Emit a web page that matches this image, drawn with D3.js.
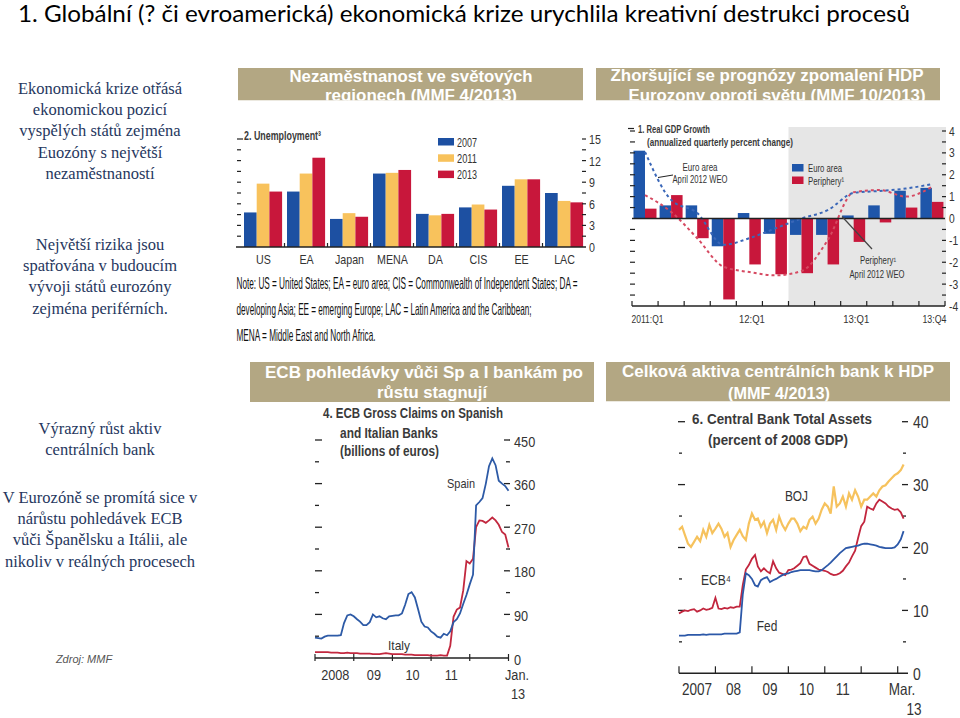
<!DOCTYPE html>
<html>
<head>
<meta charset="utf-8" />
<script src="https://d3js.org/d3.v7.min.js"></script>
<style>
  body { margin: 0; background: #fff; }
  svg text { font-family: "Liberation Sans", Arial, sans-serif; fill: #333; }
  .side { font-family: "Liberation Serif", "Times New Roman", serif; font-size: 16.5px; fill: #26375e; }
  .boxtitle { font-family: "Liberation Sans", Arial, sans-serif; font-weight: bold; font-size: 16px; fill: #fff; }
  .ctitle { font-weight: bold; fill: #3a3a3a; }
</style>
</head>
<body>
<script>
// ---------- data ----------
var pageTitle = "1. Globální (? či evroamerická) ekonomická krize urychlila kreativní destrukci procesů";
var sideNotes = [
  ["Ekonomická krize otřásá", "ekonomickou pozicí", "vyspělých států zejména", "Euozóny s největší", "nezaměstnaností"],
  ["Největší rizika jsou", "spatřována v budoucím", "vývoji států eurozóny", "zejména periférních."],
  ["Výrazný růst aktiv", "centrálních bank"],
  ["V Eurozóně se promítá sice v", "nárůstu pohledávek ECB", "vůči Španělsku a Itálii, ale", "nikoliv v reálných procesech"]
];
var sourceNote = "Zdroj: MMF";

// panel 1: unemployment
var regions = ["US", "EA", "Japan", "MENA", "DA", "CIS", "EE", "LAC"];
var unempYears = ["2007", "2011", "2013"];
var unemp2007 = [4.8, 7.7, 3.9, 10.2, 4.6, 5.5, 8.5, 7.5];
var unemp2011 = [8.8, 10.2, 4.7, 10.3, 4.4, 5.9, 9.4, 6.4];
var unemp2013 = [7.7, 12.4, 4.2, 10.7, 4.6, 5.2, 9.4, 6.2];
var unempTicks = [0, 3, 6, 9, 12, 15];
var unempNote = [
  "Note: US = United States; EA = euro area; CIS = Commonwealth of Independent States; DA =",
  "developing Asia; EE = emerging Europe; LAC = Latin America and the Caribbean;",
  "MENA = Middle East and North Africa."
];

// panel 2: real GDP growth
var quarters = ["2011:Q1", "2011:Q2", "2011:Q3", "2011:Q4", "2012:Q1", "2012:Q2", "2012:Q3", "2012:Q4", "2013:Q1", "2013:Q2", "2013:Q3", "2013:Q4"];
var quarterLabels = { "2011:Q1": "2011:Q1", "2012:Q1": "12:Q1", "2013:Q1": "13:Q1", "2013:Q4": "13:Q4" };
var gdpEuro = [3.1, 0.6, 0.6, -1.27, 0.25, -0.7, -0.75, -0.75, 0.14, 0.6, 1.27, 1.4];
var gdpPeriphery = [0.45, 1.07, -0.9, -3.7, -2.1, -2.55, -2.5, -2.1, -1.07, -0.18, 0.5, 0.76];
var weoEuro = [3.05, 0.85, 0.25, -1.2, -0.9, -0.45, 0.0, 0.38, 1.17, 1.26, 1.37, 1.57];
var weoPeriphery = [1.07, 0.3, -0.9, -2.2, -2.45, -2.6, -2.4, -1.0, 1.2, 1.3, 1.0, 1.45];
var gdpTicks = [-4, -3, -2, -1, 0, 1, 2, 3, 4];

// panel 3: ECB gross claims, monthly from Jan 2008 to Jan 2013
var spainClaims = [42, 41, 40, 44, 46, 46, 46, 46, 47, 72, 88, 90,
  86, 80, 75, 68, 68, 74, 90, 84, 86, 82, 80, 86,
  87, 88, 88, 92, 110, 132, 136, 125, 100, 75, 65, 63,
  55, 50, 44, 42, 50, 47, 55, 74, 80, 92, 112, 130,
  152, 172, 315, 322, 330, 360, 396, 412, 398, 366, 360, 355,
  345];
var italyClaims = [12, 12, 12, 12, 12, 11, 11, 11, 10, 10, 11, 10,
  10, 10, 9, 9, 9, 9, 8, 8, 8, 9, 10, 9,
  8, 8, 8, 8, 7, 7, 7, 6, 6, 6, 6, 6,
  5, 5, 5, 6, 5, 5, 25, 85, 100, 104, 140, 200,
  195, 205, 270, 284, 283, 279, 284, 290, 284, 275, 260, 255,
  228];
var claimsTicks = [0, 90, 180, 270, 360, 450];
var claimsYears = ["2008", "09", "10", "11"];

// panel 4: central bank assets, monthly from Jan 2007 to Mar 2013
var bojAssets = [22.8, 23.3, 22.0, 20.6, 20.1, 20.9, 21.7, 21.0, 22.8, 21.7, 23.6, 22.3,
  23.0, 23.8, 23.0, 21.7, 22.3, 20.1, 21.2, 22.0, 22.8, 21.8, 21.2, 23.8,
  25.4, 24.4, 24.6, 23.3, 24.1, 22.3, 23.8, 24.4, 22.8, 24.9, 23.6, 22.8,
  23.8, 24.6, 24.6, 23.8, 22.6, 23.3, 23.0, 24.4, 24.9, 23.8, 24.6, 26.0,
  27.0, 26.5, 25.4, 29.7, 26.5, 27.0, 28.1, 26.5, 28.6, 27.6, 29.1, 28.1,
  26.5, 27.6, 27.6, 28.1, 28.6, 28.1, 29.1, 29.7, 29.9, 30.5, 31.0, 31.5,
  31.8, 32.3, 33.2];
var ecbAssets = [9.5, 9.8, 10.0, 9.9, 10.1, 10.2, 9.8, 10.0, 10.3, 10.1, 10.2, 10.4,
  12.0, 10.3, 10.2, 10.4, 10.3, 10.5, 10.4, 10.6, 10.6, 14.0, 16.5, 17.2,
  18.2, 18.8, 17.0, 16.2, 16.7, 16.2, 15.9, 17.8, 16.7, 16.0, 15.8, 15.6,
  16.4, 16.5, 16.7, 17.1, 17.5, 18.5, 18.6, 17.4, 17.1, 16.8, 16.5, 16.4,
  16.3, 16.1, 15.8, 15.6, 15.7, 15.9, 16.3, 17.0, 17.6, 18.6, 19.5, 21.5,
  23.4, 24.1, 26.5, 26.2, 26.0, 27.0, 27.6, 27.3, 27.0, 26.5, 26.2, 26.0,
  26.1, 25.6, 24.6];
var fedAssets = [6.0, 6.0, 6.0, 6.1, 6.1, 6.1, 6.1, 6.1, 6.2, 6.1, 6.2, 6.2,
  6.2, 6.2, 6.2, 6.3, 6.3, 6.3, 6.3, 6.3, 6.5, 12.5, 15.9, 15.6,
  15.0, 14.0, 13.8, 14.8, 15.1, 15.3, 14.5, 14.8, 15.0, 15.3, 15.6, 15.8,
  15.9, 16.1, 16.2, 16.3, 16.4, 16.4, 16.4, 16.4, 16.3, 16.2, 16.2, 16.4,
  16.8, 17.2, 17.6, 18.1, 18.6, 19.1, 19.5, 19.9, 20.0, 20.1, 20.2, 20.3,
  20.5, 20.6, 20.6, 20.5, 20.4, 20.3, 20.1, 20.0, 19.9, 19.9, 19.9, 20.0,
  20.5, 21.3, 22.6];
var assetsTicks = [0, 10, 20, 30, 40];
var assetsYears = ["2007", "08", "09", "10", "11"];

// ---------- drawing ----------
var blue = "#1d50a2", yellow = "#f8c25c", red = "#c8173b", khaki = "#b3a783", ink = "#222";

var svg = d3.select("body").append("svg").attr("width", 960).attr("height", 718);

// page title
svg.append("text")
  .attr("x", 18).attr("y", 22)
  .attr("textLength", 892).attr("lengthAdjust", "spacingAndGlyphs")
  .style("font-family", "Lato, 'Open Sans', sans-serif").style("font-size", "22.5px").style("fill", "#000")
  .text(pageTitle);

// left column notes
var noteStarts = [88, 244, 428, 497];
sideNotes.forEach(function (lines, b) {
  lines.forEach(function (t, i) {
    svg.append("text").attr("class", "side")
      .attr("x", 100).attr("y", noteStarts[b] + i * 21.4)
      .attr("text-anchor", "middle").attr("dominant-baseline", "central")
      .text(t);
  });
});
svg.append("text").attr("x", 84).attr("y", 659)
  .attr("text-anchor", "middle").attr("dominant-baseline", "central")
  .style("font-style", "italic").style("font-size", "11px").style("fill", "#555")
  .text(sourceNote);

// khaki title boxes
function titleBox(id, x, y, w, h, lines) {
  svg.append("clipPath").attr("id", id).append("rect")
    .attr("x", x).attr("y", y).attr("width", w).attr("height", h);
  var g = svg.append("g").attr("clip-path", "url(#" + id + ")");
  g.append("rect").attr("x", x).attr("y", y).attr("width", w).attr("height", h).attr("fill", khaki);
  lines.forEach(function (l) {
    g.append("text").attr("class", "boxtitle")
      .attr("x", l.cx).attr("y", l.cy)
      .attr("text-anchor", "middle").attr("dominant-baseline", "central")
      .attr("textLength", l.w).attr("lengthAdjust", "spacingAndGlyphs")
      .text(l.t);
  });
}
titleBox("tb1", 238, 68, 345, 32.5, [
  { t: "Nezaměstnanost ve světových", cx: 411, cy: 76, w: 243 },
  { t: "regionech (MMF 4/2013)", cx: 421, cy: 95.5, w: 192 }]);
titleBox("tb2", 596, 68, 344, 32.5, [
  { t: "Zhoršující se prognózy zpomalení HDP", cx: 767, cy: 75.5, w: 313 },
  { t: "Eurozony oproti světu (MMF 10/2013)", cx: 777, cy: 95.5, w: 297 }]);
titleBox("tb3", 250, 362, 344, 40, [
  { t: "ECB pohledávky vůči Sp a I bankám po", cx: 424, cy: 372, w: 318 },
  { t: "růstu stagnují", cx: 432, cy: 392, w: 110 }]);
titleBox("tb4", 606, 362, 344, 39.5, [
  { t: "Celková aktiva centrálních bank k HDP", cx: 778, cy: 371.5, w: 312 },
  { t: "(MMF 4/2013)", cx: 779, cy: 393, w: 102 }]);

function hline(g, x1, x2, y, w) {
  g.append("line").attr("x1", x1).attr("x2", x2).attr("y1", y).attr("y2", y)
    .attr("stroke", ink).attr("stroke-width", w || 1.2);
}
function vline(g, x, y1, y2, w) {
  g.append("line").attr("x1", x).attr("x2", x).attr("y1", y1).attr("y2", y2)
    .attr("stroke", ink).attr("stroke-width", w || 1.2);
}
// narrow-looking chart text: squeeze Arial metrics like Arial Narrow unless a width is given
function txt(g, x, y, s, size, anchor, cls, width) {
  var t = g.append("text").attr("x", x).attr("y", y)
    .attr("text-anchor", anchor || "start").attr("dominant-baseline", "central")
    .attr("class", cls || null)
    .style("font-size", size + "px").text(s);
  var w = width || t.node().getComputedTextLength() * 0.82;
  t.attr("textLength", w).attr("lengthAdjust", "spacingAndGlyphs");
  return t;
}

// ===== panel 1: unemployment =====
var g1 = svg.append("g");
var x1 = d3.scaleBand().domain(regions).range([241.5, 585.5]);
var y1 = d3.scaleLinear().domain([0, 15]).range([247, 139]);
var unempSeries = [unemp2007, unemp2011, unemp2013];
var unempColors = [blue, yellow, red];
unempSeries.forEach(function (vals, k) {
  g1.append("g").selectAll("rect").data(vals).join("rect")
    .attr("x", function (d, i) { return x1(regions[i]) + 2.5 + k * 12.7; })
    .attr("y", function (d) { return y1(d); })
    .attr("width", 12.7)
    .attr("height", function (d) { return y1(0) - y1(d); })
    .attr("fill", unempColors[k]);
});
hline(g1, 236, 586, y1(0), 1.6);
regions.slice(1).forEach(function (r) { vline(g1, x1(r), y1(0) - 4, y1(0)); });
var unempMinor = d3.range(1.5, 15.01, 1.5);
unempMinor.forEach(function (v) {
  hline(g1, 237, v === 15 ? 243 : 241, y1(v));
  hline(g1, 582, 586, y1(v));
});
unempTicks.forEach(function (v) { txt(g1, 589, y1(v) + 0.5, v, 13); });
regions.forEach(function (r) { txt(g1, x1(r) + x1.bandwidth() / 2 + 0.5, 259.5, r, 13, "middle"); });
txt(g1, 244, 136, "2. Unemployment³", 12, "start", "ctitle", 77);
unempYears.forEach(function (yr, k) {
  g1.append("rect").attr("x", 438).attr("y", 138 + k * 16.3).attr("width", 16).attr("height", 7.5).attr("fill", unempColors[k]);
  txt(g1, 457, 142 + k * 16.3, yr, 13, "start", null, 20);
});
var noteW = [341, 295, 139];
unempNote.forEach(function (line, i) {
  txt(g1, 236.5, 283 + i * 25.8, line, 16.5, "start", null, noteW[i]).style("fill", "#111");
});

// ===== panel 2: real GDP growth =====
var g2 = svg.append("g");
var x2 = d3.scaleBand().domain(quarters).range([632, 945]);
var y2 = d3.scaleLinear().domain([-4, 4]).range([306, 131]);
g2.append("rect").attr("x", x2(quarters[6])).attr("y", 127)
  .attr("width", 946 - x2(quarters[6])).attr("height", y2(-4) - 127).attr("fill", "#e6e6e6");
function gdpBars(vals, off, color) {
  g2.append("g").selectAll("rect").data(vals).join("rect")
    .attr("x", function (d, i) { return x2(quarters[i]) + off; })
    .attr("y", function (d) { return y2(Math.max(0, d)); })
    .attr("width", 11.5)
    .attr("height", function (d) { return Math.abs(y2(d) - y2(0)); })
    .attr("fill", color);
}
gdpBars(gdpEuro, 1.5, "#1f56aa");
gdpBars(gdpPeriphery, 13, red);
var weoLine = d3.line()
  .x(function (d, i) { return x2(quarters[i]) + x2.bandwidth() / 2; })
  .y(function (d) { return y2(d); })
  .curve(d3.curveMonotoneX);
g2.append("path").attr("d", weoLine(weoPeriphery)).attr("fill", "none")
  .attr("stroke", "#d64a62").attr("stroke-width", 2).attr("stroke-dasharray", "3,3");
g2.append("path").attr("d", weoLine(weoEuro)).attr("fill", "none")
  .attr("stroke", "#3a67b8").attr("stroke-width", 2).attr("stroke-dasharray", "3,3");
hline(g2, 632, 945, y2(0), 1.5);
hline(g2, 632, 945, y2(-4), 1.3);
quarters.concat(["end"]).forEach(function (q, i) {
  vline(g2, 632 + i * x2.step(), y2(-4) - 5, y2(-4));
});
d3.range(-3.5, 4.01, 0.5).forEach(function (v) {
  if (v === 0) return;
  hline(g2, 630, 635, y2(v));
  hline(g2, 942, 946, y2(v));
});
gdpTicks.forEach(function (v) { txt(g2, 949, y2(v) + 0.5, v, 12.5); });
var quarterW = { "2011:Q1": 32, "12:Q1": 26, "13:Q1": 26, "13:Q4": 24 };
quarters.forEach(function (q) {
  var lab = quarterLabels[q];
  if (lab) txt(g2, x2(q) + x2.bandwidth() / 2 + 2.5, 319, lab, 11.5, "middle", null, quarterW[lab]);
});
txt(g2, 638, 128.5, "1. Real GDP Growth", 11.5, "start", "ctitle", 72);
txt(g2, 647, 142, "(annualized quarterly percent change)", 11.5, "start", "ctitle", 146);
hline(g2, 628, 634, 128.5);
txt(g2, 700, 167.5, "Euro area", 10, "middle", null, 35);
txt(g2, 700, 179, "April 2012 WEO", 10, "middle", null, 55);
g2.append("line").attr("x1", 673).attr("y1", 175).attr("x2", 658).attr("y2", 177.5).attr("stroke", ink).attr("stroke-width", 1);
txt(g2, 878, 260.5, "Periphery¹", 10, "middle", null, 36);
txt(g2, 877, 274, "April 2012 WEO", 10, "middle", null, 55);
g2.append("line").attr("x1", 872).attr("y1", 249).attr("x2", 842).attr("y2", 216.5).attr("stroke", "#444").attr("stroke-width", 1.2);
g2.append("rect").attr("x", 792).attr("y", 164).attr("width", 11.5).attr("height", 7.5).attr("fill", "#1f56aa");
txt(g2, 808, 167.5, "Euro area", 10.5, "start", null, 34);
g2.append("rect").attr("x", 792).attr("y", 176.5).attr("width", 11.5).attr("height", 7.5).attr("fill", red);
txt(g2, 808, 180.5, "Periphery¹", 10.5, "start", null, 36);

// ===== panel 3: ECB gross claims =====
var g3 = svg.append("g");
var claimsDates = spainClaims.map(function (d, i) { return d3.timeMonth.offset(new Date(2008, 0, 1), i); });
var x3 = d3.scaleTime().domain([new Date(2008, 0, 1), new Date(2013, 0, 1)]).range([315, 508.5]);
var y3 = d3.scaleLinear().domain([0, 450]).range([658, 440]);
var claimLine = d3.line()
  .x(function (d, i) { return x3(claimsDates[i]); })
  .y(function (d) { return y3(d); });
d3.range(45, 451, 45).forEach(function (v) {
  var major = v % 90 === 0;
  hline(g3, 315, major ? 322 : 319, y3(v), 1.3);
  hline(g3, major ? 504 : 506, 510, y3(v), 1.3);
});
claimsTicks.forEach(function (v) { txt(g3, 514, y3(v) + 1, v, 15.5); });
hline(g3, 315, 509, y3(0), 1.5);
d3.range(2008, 2014).forEach(function (yr) { vline(g3, x3(new Date(yr, 0, 1)), y3(0) - 4, y3(0) + 3); });
claimsYears.forEach(function (s, i) { txt(g3, x3(new Date(2008 + i, 6, 1)) + 1, 674.5, s, 15.5, "middle"); });
txt(g3, 517, 674.5, "Jan.", 15.5, "middle");
txt(g3, 518, 693.5, "13", 15.5, "middle");
g3.append("path").attr("d", claimLine(italyClaims)).attr("fill", "none").attr("stroke", "#c2283f").attr("stroke-width", 1.8);
g3.append("path").attr("d", claimLine(spainClaims)).attr("fill", "none").attr("stroke", "#2d5aa6").attr("stroke-width", 1.8);
txt(g3, 323, 413, "4. ECB Gross Claims on Spanish", 14, "start", "ctitle", 180);
txt(g3, 340, 432.5, "and Italian Banks", 14, "start", "ctitle", 98);
txt(g3, 340, 451, "(billions of euros)", 14, "start", "ctitle", 99);
txt(g3, 461, 483, "Spain", 13.5, "middle", null, 28);
txt(g3, 399, 645, "Italy", 13.5, "middle", null, 22);

// ===== panel 4: central bank assets =====
var g4 = svg.append("g");
var assetDates = bojAssets.map(function (d, i) { return d3.timeMonth.offset(new Date(2007, 0, 1), i); });
var x4 = d3.scaleTime().domain([new Date(2007, 0, 1), new Date(2013, 0, 1)]).range([679, 897.7]);
var y4 = d3.scaleLinear().domain([0, 40]).range([673.3, 421.7]);
var assetLine = d3.line()
  .x(function (d, i) { return x4(assetDates[i]); })
  .y(function (d) { return y4(d); });
d3.range(5, 40.1, 5).forEach(function (v) {
  var major = v % 10 === 0;
  hline(g4, major ? 678 : 679, major ? 685 : 682, y4(v), 1.3);
  hline(g4, major ? 902 : 903, major ? 908 : 906, y4(v), 1.3);
});
assetsTicks.forEach(function (v) { txt(g4, 913, y4(v) + 1, v, 17); });
hline(g4, 679, 908, y4(0), 1.6);
d3.range(2007, 2014).forEach(function (yr) { vline(g4, x4(new Date(yr, 0, 1)), y4(0) - 7, y4(0)); });
assetsYears.forEach(function (s, i) { txt(g4, x4(new Date(2007 + i, 6, 1)), 689, s, 16.5, "middle"); });
txt(g4, 902, 689, "Mar.", 16.5, "middle");
txt(g4, 914, 709, "13", 16.5, "middle");
g4.append("path").attr("d", assetLine(bojAssets)).attr("fill", "none").attr("stroke", "#f6c25d").attr("stroke-width", 2.2);
g4.append("path").attr("d", assetLine(ecbAssets)).attr("fill", "none").attr("stroke", "#c2263e").attr("stroke-width", 1.8);
g4.append("path").attr("d", assetLine(fedAssets)).attr("fill", "none").attr("stroke", "#2c58a8").attr("stroke-width", 1.8);
txt(g4, 692, 419, "6. Central Bank Total Assets", 14.5, "start", "ctitle", 180);
txt(g4, 708, 440, "(percent of 2008 GDP)", 14.5, "start", "ctitle", 140);
txt(g4, 796.5, 496, "BOJ", 14.5, "middle");
txt(g4, 716, 580, "ECB⁴", 14.5, "middle", null, 30);
txt(g4, 767, 626, "Fed", 14.5, "middle");
</script>
</body>
</html>
